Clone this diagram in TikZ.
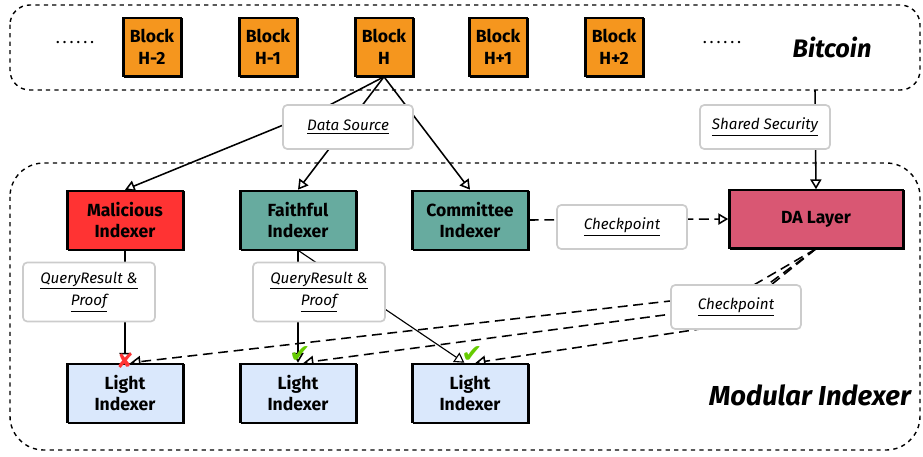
\documentclass[tikz,border=0pt]{standalone}
\usepackage{fontspec}
\setmainfont{Fira Sans}
\newfontfamily\symbolfont{DejaVu Sans}
\usetikzlibrary{arrows.meta}
\pgfdeclarelayer{bg}
\pgfsetlayers{bg,main}
% fills
\definecolor{btcorange}{HTML}{F5961E}
\definecolor{badred}{HTML}{FF3333}
\definecolor{goodteal}{HTML}{67AB9F}
\definecolor{dapink}{HTML}{D95773}
\definecolor{lightblue}{HTML}{DAE8FC}
\definecolor{tickgreen}{HTML}{66CC00}
\tikzset{
  rough/.style={postaction={draw, line width=0.5pt, transform canvas={shift={(0.7pt,-0.6pt)}}}},
  block/.style={draw, line width=1.1pt, fill=btcorange, rough, minimum width=1.45cm, minimum height=1.45cm,
    inner sep=0pt, align=center, font=\bfseries\fontsize{12.5}{16}\selectfont},
  indexer/.style={draw, line width=1.1pt, fill=#1, rough, minimum width=2.9cm, minimum height=1.475cm,
    inner sep=0pt, align=center, font=\bfseries\fontsize{12.5}{15.5}\selectfont},
  tag/.style={draw=black!20, line width=1.2pt, rounded corners=3pt, fill=white, minimum width=3.25cm,
    minimum height=1.1cm, inner sep=0pt, align=center, font=\itshape\fontsize{10.8}{16}\selectfont},
  feed/.style={line width=1.1pt, -{Triangle[open,length=7pt,width=8pt]}},
  sync/.style={feed, dash pattern=on 7pt off 4pt},
  frame/.style={dashed, line width=1pt},
  title/.style={font=\bfseries\itshape\fontsize{18}{20}\selectfont}
}
\begin{document}
\begin{tikzpicture}[x=0.025cm, y=-0.025cm]
\useasboundingbox (0,0) rectangle (923,456);

% bitcoin chain
\node[block] (h-2) at (152,47) {Block\\H-2};
\node[block] (h-1) at (268,47) {Block\\H-1};
\node[block] (h)   at (384,47) {Block\\H};
\node[block] (h+1) at (498,47) {Block\\H+1};
\node[block] (h+2) at (614,47) {Block\\H+2};
\node[font=\fontsize{12}{14}\selectfont] (dotl) at (75,43) {.\,.\,.\,.\,.\,.};
\node[font=\fontsize{12}{14}\selectfont] (dotr) at (722,43) {.\,.\,.\,.\,.\,.};
\node[title] (btc) at (832,47) {Bitcoin};
\coordinate (btcout) at (815,90);

% indexers
\node[indexer=badred]   (mal) at (125,220) {Malicious\\Indexer};
\node[indexer=goodteal] (fai) at (298,220) {Faithful\\Indexer};
\node[indexer=goodteal] (com) at (470,220) {Committee\\Indexer};
\node[indexer=dapink, minimum width=4.35cm, minimum height=1.45cm] (da) at (816,219) {DA Layer};
\node[indexer=lightblue] (li1) at (125,393) {Light\\Indexer};
\node[indexer=lightblue] (li2) at (298,393) {Light\\Indexer};
\node[indexer=lightblue] (li3) at (470,393) {Light\\Indexer};
\node[title, font=\bfseries\itshape\fontsize{19.5}{22}\selectfont] (mod) at (810,395) {Modular Indexer};

% edge labels
\node[tag] (src) at (348,127) {\underline{Data Source}};
\node[tag] (sec) at (765,127) {\underline{Shared Security}};
\node[tag] (chk1) at (622,227) {\underline{Checkpoint}};
\node[tag] (chk2) at (736,307) {\underline{Checkpoint}};
\node[tag, minimum width=3.3cm, minimum height=1.475cm] (qr1) at (89,292) {\underline{QueryResult \&}\\\underline{Proof}};
\node[tag, minimum width=3.3cm, minimum height=1.475cm] (qr2) at (319,292) {\underline{QueryResult \&}\\\underline{Proof}};

\begin{pgfonlayer}{bg}
% containers
\draw[frame, rounded corners=14pt] (10,5) rectangle (920,90);
\draw[frame, rounded corners=24pt] (10,163) rectangle (920,450);
% data flow
\draw[feed] (h.south) -- (320,110) -- (mal.north);
\draw[feed] (h.south) -- (fai.north);
\draw[feed] (h.south) -- (com.north);
\draw[feed] (btcout) -- (da.north);
\draw[sync] (com.east) -- (da.west);
\draw[feed] (mal.south) -- (li1.north);
\draw[feed] (fai.south) -- (li2.north);
\draw[feed, line width=0.8pt] (fai.south) -- ([xshift=-4pt]li3.north);
\draw[sync] (da.south) -- (740,293) -- ([xshift=4pt]li1.north);
\draw[sync] (da.south) -- (740,305) -- ([xshift=4pt]li2.north);
\draw[sync] (da.south) -- (720,326) -- ([xshift=4pt]li3.north);
\end{pgfonlayer}

% verdicts
\node[text=badred, font=\symbolfont\fontsize{15}{15}\selectfont] (no) at (125,361) {✘};
\node[text=tickgreen, font=\symbolfont\fontsize{18}{18}\selectfont] (ok2) at (300,355) {✔};
\node[text=tickgreen, font=\symbolfont\fontsize{18}{18}\selectfont] (ok3) at (472,355) {✔};
\end{tikzpicture}
\end{document}
